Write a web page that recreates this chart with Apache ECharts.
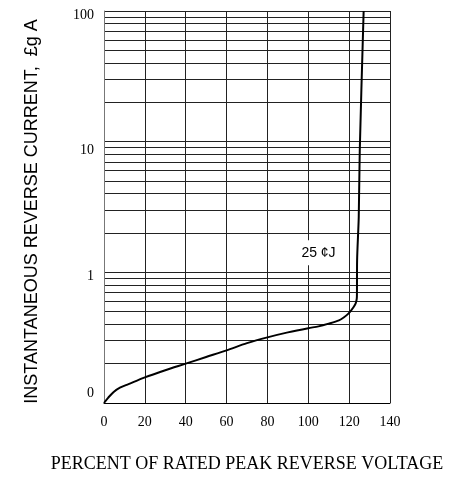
<!DOCTYPE html>
<html><head><meta charset="utf-8">
<script src="https://cdn.jsdelivr.net/npm/echarts@6/dist/echarts.min.js"></script>
<style>html,body{margin:0;padding:0;background:#fff}#c{width:460px;height:484px}</style>
</head><body><div id="c"></div>
<script>
// Percent of rated peak reverse voltage (x) and instantaneous reverse current (y, log scale)
const voltagePct = [0, 2.1, 4.6, 7.8, 12, 20, 30, 40, 50, 60, 70, 80, 90, 100, 105, 110, 115, 117.5, 119.5, 121, 122.2, 123.2, 123.6, 123.8, 123.9, 124.7, 125.2, 127.1];
const reverseCurrent = [0.1, 0.110, 0.121, 0.131, 0.1395, 0.157, 0.178, 0.200, 0.225, 0.253, 0.287, 0.318, 0.347, 0.374, 0.386, 0.405, 0.429, 0.453, 0.481, 0.512, 0.543, 0.579, 0.611, 0.654, 1.235, 2.65, 8.58, 100];
const xTicks = [0, 20, 40, 60, 80, 100, 120, 140];
const yTickLabels = {0.1: '0', 1: '1', 10: '10', 100: '100'};
const tempLabel = '25 ¢J';
const tempLabelAt = [105, 1.41];

const serif = 'Liberation Serif';
const sans = 'Liberation Sans';
const chart = echarts.init(document.getElementById('c'), null, {renderer: 'canvas'});
const rich = {
  b: {fontFamily: serif, fontSize: 14, color: '#000', padding: [0, 0, 20, 0]},
  m: {fontFamily: serif, fontSize: 14, color: '#000', padding: [7, 0, 0, 0]},
  t: {fontFamily: serif, fontSize: 14, color: '#000', padding: [18, 0, 0, 0]},
  h: {fontFamily: serif, fontSize: 14, color: '#000', padding: [8, 0, 0, 0]}
};
const richKey = {0.1: 'b', 1: 'm', 10: 't', 100: 'h'};
chart.setOption({
  animation: false,
  backgroundColor: '#fff',
  grid: {left: 104, right: 70, top: 11, bottom: 81, containLabel: false},
  xAxis: {
    type: 'value', min: xTicks[0], max: xTicks[xTicks.length - 1], interval: 20,
    name: 'PERCENT OF RATED PEAK REVERSE VOLTAGE',
    nameLocation: 'middle', nameGap: 52,
    nameTextStyle: {fontFamily: serif, fontSize: 18, color: '#000'},
    axisLine: {show: true, lineStyle: {color: '#000', width: 1}},
    axisTick: {show: false},
    axisLabel: {fontFamily: serif, fontSize: 14, color: '#000', margin: 12},
    splitLine: {show: true, lineStyle: {color: '#222', width: 1}}
  },
  yAxis: {
    type: 'log', logBase: 10, min: 0.1, max: 100,
    name: 'INSTANTANEOUS REVERSE CURRENT,  £g A',
    nameLocation: 'middle', nameGap: 63,
    nameTextStyle: {fontFamily: sans, fontSize: 18, color: '#000', padding: [0, 9, 0, 0]},
    axisLine: {show: true, lineStyle: {color: '#777', width: 1}},
    axisTick: {show: false},
    axisLabel: {
      margin: 10, fontFamily: serif, fontSize: 14, color: '#000',
      formatter: function (v) {
        const key = Math.round(v * 10) / 10;
        const t = yTickLabels[key];
        return t === undefined ? '' : '{' + richKey[key] + '|' + t + '}';
      },
      rich: rich
    },
    splitLine: {show: true, lineStyle: {color: '#222', width: 1}},
    minorTick: {show: false, splitNumber: 9},
    minorSplitLine: {show: true, lineStyle: {color: '#222', width: 1}}
  },
  series: [{
    type: 'line',
    data: voltagePct.map((x, i) => [x, reverseCurrent[i]]),
    showSymbol: false,
    symbol: 'none',
    smooth: 0.3,
    lineStyle: {color: '#000', width: 2},
    markPoint: {
      symbol: 'circle', symbolSize: 1,
      itemStyle: {color: 'transparent'},
      label: {
        show: true, position: 'inside', formatter: tempLabel,
        fontFamily: sans, fontSize: 14, color: '#000',
        backgroundColor: '#fff', padding: [6, 5, 5, 5]
      },
      data: [{coord: tempLabelAt}]
    }
  }]
});
</script></body></html>
